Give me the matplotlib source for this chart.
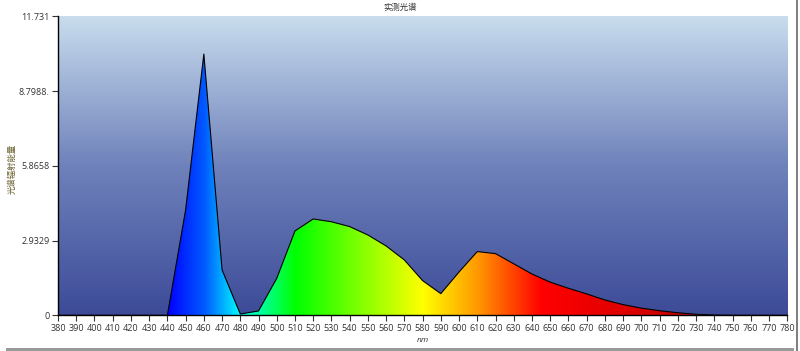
import numpy as np
import matplotlib
matplotlib.use("Agg")
import matplotlib.pyplot as plt
from matplotlib.patches import Polygon, Rectangle
from matplotlib.colors import LinearSegmentedColormap

plt.rcParams['font.family'] = ['Open Sans', 'Noto Sans CJK SC', 'DejaVu Sans']

# measured spectrum
wavelengths = list(range(380, 790, 10))
energy = [0, 0, 0, 0, 0, 0, 0, 4.13, 10.25, 1.78, 0.05,
          0.17, 1.45, 3.31, 3.78, 3.67, 3.48, 3.15, 2.72, 2.17, 1.36,
          0.85, 1.70, 2.50, 2.42, 2.02, 1.62, 1.30, 1.06, 0.84, 0.60,
          0.42, 0.28, 0.18, 0.10, 0.04, 0.01, 0, 0, 0, 0]
ytick_vals = [0, 2.9329, 5.8658, 8.7988, 11.731]
ytick_labels = ["0", "2.9329", "5.8658", "8.7988.", "11.731"]
title = "实测光谱"
ylabel = "光谱辐射能量"
xlabel = "nm"


def spectrum_rgb(wl):
    # rough visible-spectrum colour for a wavelength
    stops = [(380, (0.0, 0.0, 1.0)), (440, (0.0, 0.0, 1.0)), (460, (0.0, 0.35, 1.0)),
             (480, (0.0, 1.0, 1.0)), (510, (0.0, 1.0, 0.0)), (580, (1.0, 1.0, 0.0)),
             (610, (1.0, 0.6, 0.0)), (645, (1.0, 0.0, 0.0)), (700, (0.85, 0.0, 0.0)),
             (780, (0.6, 0.0, 0.0))]
    xs = [s[0] for s in stops]
    return [np.interp(wl, xs, [s[1][i] for s in stops]) for i in range(3)]


fig = plt.figure(figsize=(8.0, 3.51), dpi=100)
ax = fig.add_axes([0.0725, 0.1017, 0.9115, 0.8519])

ymax = ytick_vals[-1]
ax.set_xlim(380, 780)
ax.set_ylim(0, ymax)

# background gradient
bg = LinearSegmentedColormap.from_list("bg", ["#3d4b98", "#6f82bb", "#c9ddee"])
grad = np.linspace(0, 1, 256).reshape(-1, 1)
ax.imshow(grad, aspect="auto", cmap=bg, origin="lower",
          extent=[380, 780, 0, ymax], zorder=0)

# spectrum coloured fill
wl_fine = np.linspace(380, 780, 801)
colors_img = np.array([spectrum_rgb(w) for w in wl_fine]).reshape(1, -1, 3)
im = ax.imshow(colors_img, aspect="auto", extent=[380, 780, 0, ymax], zorder=1)
verts = [(wavelengths[0], 0)] + list(zip(wavelengths, energy)) + [(wavelengths[-1], 0)]
poly = Polygon(verts, closed=True, facecolor="none", edgecolor="none")
ax.add_patch(poly)
im.set_clip_path(poly)
ax.plot(wavelengths, energy, color="black", lw=0.8, zorder=2)

ax.set_xticks(wavelengths)
ax.set_yticks(ytick_vals)
ax.set_yticklabels(ytick_labels)
ax.tick_params(axis="both", labelsize=6.5, length=4, width=0.8, colors="#333333",
               direction="out", pad=2)
for s in ["top", "right"]:
    ax.spines[s].set_visible(False)
for s in ["left", "bottom"]:
    ax.spines[s].set_linewidth(1.0)
    ax.spines[s].set_color("black")

fig.text(0.5, 0.978, title, ha="center", va="center", fontsize=6, color="#333333")
fig.text(0.016, 0.52, ylabel, rotation=90, ha="center", va="center",
         fontsize=6, color="#6b6030")
ax.set_xlabel(xlabel, fontsize=6, style="italic", color="#333333", labelpad=3)

# window frame strips
fig.patches.append(Rectangle((0.008, 0), 0.985, 0.009, transform=fig.transFigure,
                             facecolor="#9a9a9a", edgecolor="none"))
fig.patches.append(Rectangle((0.9945, 0), 0.003, 1, transform=fig.transFigure,
                             facecolor="#808080", edgecolor="none"))

fig.savefig("out.png", dpi=100)
